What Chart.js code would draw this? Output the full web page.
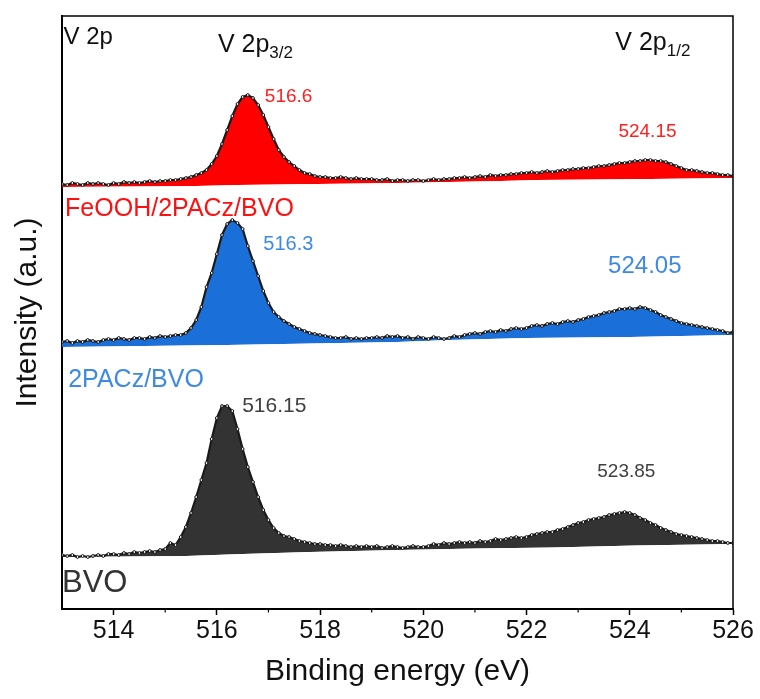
<!DOCTYPE html>
<html>
<head>
<meta charset="utf-8">
<title>V 2p XPS</title>
<script src="https://cdn.jsdelivr.net/npm/chart.js@4.4.1/dist/chart.umd.min.js"></script>
<style>
  html, body { margin: 0; padding: 0; background: #fff; }
  #wrap { width: 760px; height: 699px; }
</style>
</head>
<body>
<div id="wrap"><canvas id="xps"></canvas></div>
<script>
// binding energy grid (eV)
const energy = [
  513.0, 513.1, 513.2, 513.3, 513.4, 513.5, 513.6, 513.7, 513.8, 513.9,
  514.0, 514.1, 514.2, 514.3, 514.4, 514.5, 514.6, 514.7, 514.8, 514.9,
  515.0, 515.1, 515.2, 515.3, 515.4, 515.5, 515.6, 515.7, 515.8, 515.9,
  516.0, 516.1, 516.2, 516.3, 516.4, 516.5, 516.6, 516.7, 516.8, 516.9,
  517.0, 517.1, 517.2, 517.3, 517.4, 517.5, 517.6, 517.7, 517.8, 517.9,
  518.0, 518.1, 518.2, 518.3, 518.4, 518.5, 518.6, 518.7, 518.8, 518.9,
  519.0, 519.1, 519.2, 519.3, 519.4, 519.5, 519.6, 519.7, 519.8, 519.9,
  520.0, 520.1, 520.2, 520.3, 520.4, 520.5, 520.6, 520.7, 520.8, 520.9,
  521.0, 521.1, 521.2, 521.3, 521.4, 521.5, 521.6, 521.7, 521.8, 521.9,
  522.0, 522.1, 522.2, 522.3, 522.4, 522.5, 522.6, 522.7, 522.8, 522.9,
  523.0, 523.1, 523.2, 523.3, 523.4, 523.5, 523.6, 523.7, 523.8, 523.9,
  524.0, 524.1, 524.2, 524.3, 524.4, 524.5, 524.6, 524.7, 524.8, 524.9,
  525.0, 525.1, 525.2, 525.3, 525.4, 525.5, 525.6, 525.7, 525.8, 525.9,
  526.0
];

// stacked intensities (a.u.), top to bottom
const feoohPacz = [
  425, 424, 426, 425, 424, 426, 425, 426, 425, 424,
  426, 425, 427, 426, 427, 426, 427, 428, 427, 428,
  428, 429, 429, 430, 431, 432, 434, 436, 439, 445,
  453, 465, 479, 493, 505, 512, 514, 511, 504, 494,
  482, 470, 459, 452, 447, 443, 439, 436, 435, 433,
  432, 432, 431, 431, 432, 431, 430, 431, 430, 430,
  430, 429, 429, 430, 428, 429, 429, 428, 429, 429,
  428, 429, 430, 429, 430, 430, 431, 431, 432, 431,
  432, 433, 432, 434, 433, 434, 434, 435, 435, 436,
  436, 437, 436, 437, 438, 437, 438, 439, 439, 440,
  440, 441, 441, 442, 443, 443, 444, 445, 446, 446,
  447, 448, 448, 449, 449, 448, 448, 447, 445, 443,
  441, 439, 439, 438, 437, 436, 436, 435, 434, 434,
  433
];

const pacz = [
  267, 268, 266, 268, 267, 269, 268, 267, 269, 270,
  269, 271, 270, 269, 271, 271, 270, 272, 271, 273,
  272, 273, 274, 274, 276, 281, 289, 302, 322, 336,
  355, 374, 385, 389, 386, 380, 363, 348, 333, 318,
  306, 297, 292, 288, 285, 282, 280, 278, 276, 275,
  274, 273, 272, 271, 271, 272, 270, 271, 270, 271,
  271, 272, 271, 273, 272, 273, 271, 272, 270, 272,
  271, 270, 272, 271, 270, 271, 273, 272, 274, 275,
  276, 275, 277, 278, 277, 279, 278, 280, 281, 280,
  281, 283, 284, 283, 285, 286, 285, 287, 288, 287,
  289, 290, 292, 293, 294, 296, 297, 298, 300, 300,
  301, 300, 302, 301, 299, 297, 294, 292, 290, 288,
  286, 285, 284, 283, 282, 281, 280, 279, 278, 276,
  277
];

const bvo = [
  54, 53, 54, 52, 53, 52, 53, 54, 53, 55,
  55, 54, 56, 55, 57, 56, 57, 58, 57, 59,
  60, 66, 64, 72, 82, 96, 112, 129, 146, 170,
  191, 203, 203, 198, 180, 160, 142, 127, 112, 99,
  89, 81, 76, 73, 72, 70, 68, 67, 66, 65,
  65, 64, 64, 63, 64, 63, 62, 63, 62, 63,
  62, 63, 61, 62, 63, 62, 61, 62, 63, 62,
  62, 63, 65, 64, 66, 65, 66, 67, 66, 67,
  66, 68, 67, 68, 70, 69, 70, 71, 72, 71,
  72, 74, 75, 76, 77, 77, 79, 80, 82, 84,
  86, 87, 89, 90, 91, 92, 94, 95, 96, 97,
  96, 94, 91, 89, 86, 84, 81, 79, 77, 75,
  74, 73, 72, 71, 70, 69, 68, 68, 67, 66,
  66
];

// background lines under each spectrum
const feoohPaczBgEnergy = [513, 515.6, 516.4, 519.5, 521.5, 522.2, 524.4, 526];
const feoohPaczBg = [422, 423, 424, 426, 428, 429, 430, 431];
const paczBgEnergy = [513, 516.2, 519.5, 520.5, 522, 524, 526];
const paczBg = [262, 264, 267, 269, 271, 272, 274];
const bvoBgEnergy = [513, 515.4, 516.5, 517.8, 519.5, 521, 522.5, 524.1, 526];
const bvoBg = [52, 53, 55, 57, 59, 60.5, 61.5, 63.5, 65];

const xTicks = [514, 516, 518, 520, 522, 524, 526];

const FONT = "'Liberation Sans', Arial, sans-serif";
const RED = "#ff0000";
const BLUE = "#1b6fd8";
const DARK = "#333333";

// peak positions and sample names
const labels = [
  { text: "V 2p", x: 513.03, y: 565, color: "#111", size: 24 },
  { text: "V 2p", sub: "3/2", x: 516.02, y: 557, color: "#111", size: 25, subSize: 17 },
  { text: "V 2p", sub: "1/2", x: 523.72, y: 559, color: "#111", size: 25, subSize: 17 },
  { text: "516.6", x: 516.93, y: 507, color: "#ff2020", size: 19 },
  { text: "524.15", x: 523.78, y: 472, color: "#ff2020", size: 19 },
  { text: "FeOOH/2PACz/BVO", x: 513.06, y: 393, color: "#ff1010", size: 25 },
  { text: "516.3", x: 516.9, y: 359, color: "#3d8ae6", size: 20 },
  { text: "524.05", x: 523.58, y: 336, color: "#3d8ae6", size: 24 },
  { text: "2PACz/BVO", x: 513.12, y: 222, color: "#3d8ae6", size: 25 },
  { text: "516.15", x: 516.49, y: 197, color: "#404040", size: 21 },
  { text: "523.85", x: 523.37, y: 132, color: "#404040", size: 19 },
  { text: "BVO", x: 513.0, y: 17, color: "#333", size: 31 },
];

function background(xs, ys) {
  return {
    data: xs.map((x, i) => ({ x: x, y: ys[i] })),
    borderWidth: 0,
    borderColor: "rgba(0,0,0,0)",
    pointRadius: 0,
    fill: false,
  };
}

function spectrum(values, bgIndex, fillColor) {
  return {
    data: values,
    borderColor: "#1a1a1a",
    borderWidth: 2.2,
    pointRadius: 1.4,
    pointBorderWidth: 1,
    pointBackgroundColor: "#fff",
    pointBorderColor: "#111",
    tension: 0,
    fill: { target: bgIndex, above: fillColor, below: "rgba(0,0,0,0)" },
  };
}

const labelPlugin = {
  id: "peakLabels",
  afterDatasetsDraw(chart) {
    const { ctx, scales } = chart;
    ctx.save();
    ctx.textAlign = "left";
    ctx.textBaseline = "alphabetic";
    labels.forEach((l) => {
      const px = scales.x.getPixelForValue(l.x);
      const py = scales.y.getPixelForValue(l.y);
      ctx.fillStyle = l.color;
      ctx.font = l.size + "px " + FONT;
      ctx.fillText(l.text, px, py);
      if (l.sub) {
        const w = ctx.measureText(l.text).width;
        ctx.font = l.subSize + "px " + FONT;
        ctx.fillText(l.sub, px + w, py + 6);
      }
    });
    ctx.restore();
  },
};

const framePlugin = {
  id: "frame",
  afterDraw(chart) {
    const { ctx, chartArea, scales } = chart;
    ctx.save();
    ctx.strokeStyle = "#000";
    ctx.lineWidth = 1.5;
    ctx.beginPath();
    ctx.moveTo(chartArea.left, chartArea.top);
    ctx.lineTo(chartArea.right, chartArea.top);
    ctx.lineTo(chartArea.right, chartArea.bottom);
    ctx.stroke();
    // minor ticks at odd energies
    ctx.lineWidth = 1.2;
    for (let v = 515; v < 526; v += 2) {
      const px = scales.x.getPixelForValue(v);
      ctx.beginPath();
      ctx.moveTo(px, chartArea.bottom);
      ctx.lineTo(px, chartArea.bottom + 3.5);
      ctx.stroke();
    }
    ctx.restore();
  },
};

new Chart(document.getElementById("xps"), {
  type: "line",
  data: {
    labels: energy,
    datasets: [
      background(bvoBgEnergy, bvoBg),
      background(paczBgEnergy, paczBg),
      background(feoohPaczBgEnergy, feoohPaczBg),
      spectrum(bvo, 0, DARK),
      spectrum(pacz, 1, BLUE),
      spectrum(feoohPacz, 2, RED),
    ],
  },
  options: {
    responsive: true,
    maintainAspectRatio: false,
    animation: false,
    layout: { padding: { top: 16, right: 27, left: 0, bottom: 0 } },
    plugins: {
      legend: { display: false },
      tooltip: { enabled: false },
    },
    scales: {
      x: {
        type: "linear",
        min: 513,
        max: 526,
        afterFit(scale) { scale.height = 90; },
        ticks: {
          stepSize: 1,
          autoSkip: false,
          maxRotation: 0,
          padding: 1,
          color: "#111",
          font: { family: FONT, size: 25 },
          callback: (v) => (xTicks.includes(v) ? String(v) : ""),
        },
        grid: {
          display: true,
          drawOnChartArea: false,
          drawTicks: true,
          tickLength: 6,
          tickWidth: 1.5,
          tickColor: (c) => (c.tick && xTicks.includes(c.tick.value) ? "#000" : "rgba(0,0,0,0)"),
        },
        border: { display: true, color: "#000", width: 2 },
        title: {
          display: true,
          text: "Binding energy (eV)",
          color: "#111",
          font: { family: FONT, size: 30 },
          padding: { top: 0, bottom: 9 },
        },
      },
      y: {
        min: 0,
        max: 593,
        afterFit(scale) { scale.width = 62; },
        ticks: { display: false },
        grid: { display: false },
        border: { display: true, color: "#000", width: 2 },
        title: {
          display: true,
          text: "Intensity (a.u.)",
          color: "#111",
          font: { family: FONT, size: 30 },
          padding: { top: 10, bottom: 0 },
        },
      },
    },
  },
  plugins: [labelPlugin, framePlugin],
});
</script>
</body>
</html>
